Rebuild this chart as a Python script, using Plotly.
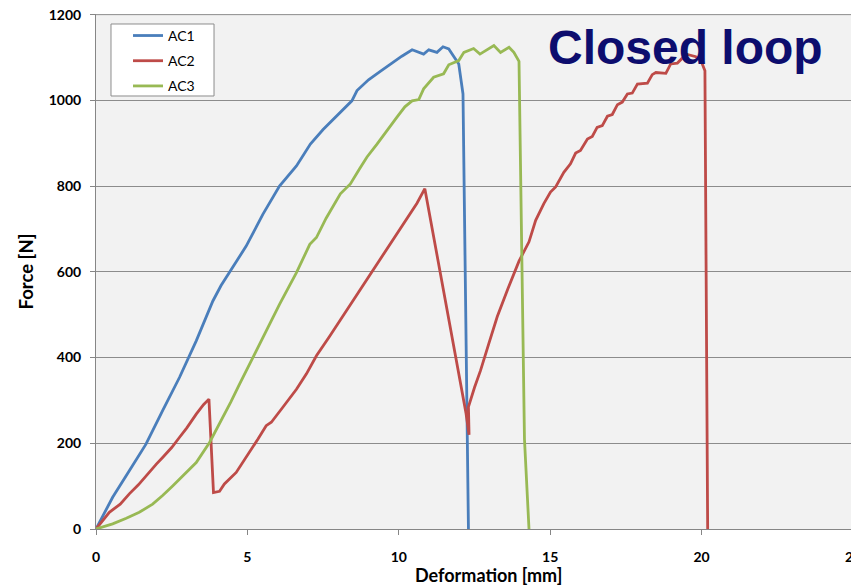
import plotly.graph_objects as go

# ---- data ----
ac1_x = [0, 0.55, 1.1, 1.65, 2.2, 2.76, 3.31, 3.6, 3.86, 4.13, 4.41, 4.96, 5.51, 6.06, 6.62, 7.08, 7.5,
         8.0, 8.45, 8.62, 9.0, 9.4, 9.72, 10.1, 10.44, 10.82, 10.99, 11.26, 11.46, 11.65, 11.98, 12.12, 12.3]
ac1_y = [0, 74, 136, 198, 276, 354, 439, 488, 532, 568, 598, 660, 734, 800, 847, 898, 932,
         968, 999, 1023, 1048, 1068, 1085, 1103, 1118, 1108, 1118, 1112, 1125, 1120, 1085, 1015, 0]

ac2_x = [0, 0.44, 0.8, 1.1, 1.4, 1.65, 2.0, 2.2, 2.5, 2.76, 3.0, 3.31, 3.55, 3.73, 3.88, 4.08, 4.24,
         4.63, 5.07, 5.35, 5.62, 5.79, 6.17, 6.62, 6.95, 7.28, 7.7, 8.2, 8.7, 9.2, 9.7, 10.2, 10.6, 10.86,
         12.22, 12.32, 12.3, 12.5, 12.7, 12.97, 13.25, 13.6, 13.97, 14.3, 14.52, 14.79, 15.01, 15.18,
         15.45, 15.67, 15.84, 16.0, 16.23, 16.39, 16.55, 16.72, 16.89, 17.05, 17.22, 17.38, 17.55,
         17.71, 17.88, 18.21, 18.37, 18.49, 18.82, 18.98, 19.2, 19.37, 19.53, 19.81, 20.0, 20.11, 20.2]
ac2_y = [0, 39, 58, 82, 103, 124, 152, 167, 190, 214, 236, 268, 290, 303, 85, 88, 105,
         132, 179, 210, 241, 249, 284, 326, 362, 404, 448, 502, 555, 608, 662, 716, 760, 794,
         270, 220, 285, 330, 370, 432, 495, 560, 625, 670, 720, 759, 786, 798,
         832, 852, 877, 883, 910, 916, 937, 941, 963, 967, 990, 996, 1015,
         1017, 1038, 1040, 1060, 1065, 1063, 1085, 1087, 1099, 1107, 1102, 1089, 1069, 0]

ac3_x = [0, 0.55, 1.0, 1.43, 1.87, 2.2, 2.54, 2.9, 3.31, 3.75, 4.19, 4.45, 4.74, 5.18, 5.51, 5.8,
         6.06, 6.62, 7.06, 7.28, 7.6, 8.07, 8.4, 8.7, 8.95, 9.28, 9.6, 9.94, 10.2, 10.44, 10.66, 10.82,
         11.15, 11.48, 11.65, 11.98, 12.15, 12.47, 12.68, 12.9, 13.14, 13.36, 13.64, 13.8, 13.97, 14.15, 14.3]
ac3_y = [0, 12, 25, 39, 58, 78, 101, 126, 155, 202, 260, 296, 338, 400, 447, 485,
         524, 598, 664, 680, 725, 782, 805, 840, 868, 898, 930, 961, 985, 999, 1002, 1027,
         1054, 1062, 1083, 1093, 1112, 1121, 1108, 1118, 1128, 1112, 1124, 1112, 1091, 210, 0]

series_names = ["AC1", "AC2", "AC3"]
series_colors = ["#4A7EBB", "#BE4B48", "#98B954"]
x_ticks = [0, 5, 10, 15, 20, 25]
y_ticks = [0, 200, 400, 600, 800, 1000, 1200]

font_main = "Liberation Sans, Arial, sans-serif"
font_lbl = "Lato, Liberation Sans, sans-serif"

fig = go.Figure()
for name, xs, ys, col in zip(series_names, [ac1_x, ac2_x, ac3_x], [ac1_y, ac2_y, ac3_y], series_colors):
    fig.add_trace(go.Scatter(x=xs, y=ys, mode="lines", name=name, legendgroup=name,
                             line=dict(color=col, width=2.8)))

# page body has an 8px margin, so the figure is 8px smaller than the window
fig.update_layout(
    width=851, height=579,
    margin=dict(l=88, r=6, t=6, b=58, autoexpand=False),
    paper_bgcolor="white",
    plot_bgcolor="#F2F2F2",
    showlegend=True,
    legend=dict(x=0.0423, y=0.9885, xanchor="left", yanchor="top",
                bgcolor="rgba(0,0,0,0)", borderwidth=0,
                font=dict(family=font_lbl, size=14, color="#000000"),
                itemwidth=30, tracegroupgap=4, traceorder="grouped"),
    shapes=[dict(type="rect", xref="paper", yref="paper",
                 x0=0.0198, x1=0.1559, y0=0.8408, y1=0.9806,
                 fillcolor="white", line=dict(color="#8C8C8C", width=1), layer="above"),
            dict(type="line", xref="paper", yref="y", x0=0, x1=1, y0=y_ticks[-1], y1=y_ticks[-1],
                 line=dict(color="#8C8C8C", width=1), layer="below")],
    annotations=[dict(text="<b>Closed loop</b>", x=0.7787, y=0.935, xref="paper", yref="paper",
                      xanchor="center", yanchor="middle", showarrow=False,
                      font=dict(family=font_main, size=48, color="#0D0D6E")),
                 dict(text="<b>Deformation [mm]</b>", x=0.518, y=-0.0893, xref="paper", yref="paper",
                      xanchor="center", yanchor="middle", showarrow=False,
                      font=dict(family=font_lbl, size=18, color="#000"))],
)
fig.update_xaxes(range=[0, 25], tickvals=x_ticks, ticktext=["<b>%d</b>" % v for v in x_ticks],
                 showgrid=False, zeroline=False, showline=True, linecolor="#868686", linewidth=1,
                 ticks="outside", ticklen=5, tickcolor="#868686", ticklabelstandoff=10,
                 ticklabeloverflow="allow",
                 tickfont=dict(family=font_lbl, size=14, color="#000"))
fig.update_yaxes(range=[0, 1201.5], tickvals=y_ticks, ticktext=["<b>%d</b>" % v for v in y_ticks],
                 showgrid=True, gridcolor="#8C8C8C", gridwidth=1, zeroline=False,
                 showline=True, linecolor="#868686", linewidth=1,
                 ticks="outside", ticklen=5, tickcolor="#868686", ticklabelstandoff=6,
                 ticklabeloverflow="allow",
                 tickfont=dict(family=font_lbl, size=14, color="#000"),
                 title=dict(text="<b>Force [N]</b>", font=dict(family=font_lbl, size=18.5, color="#000"),
                            standoff=10))

fig.write_html("out.html")
